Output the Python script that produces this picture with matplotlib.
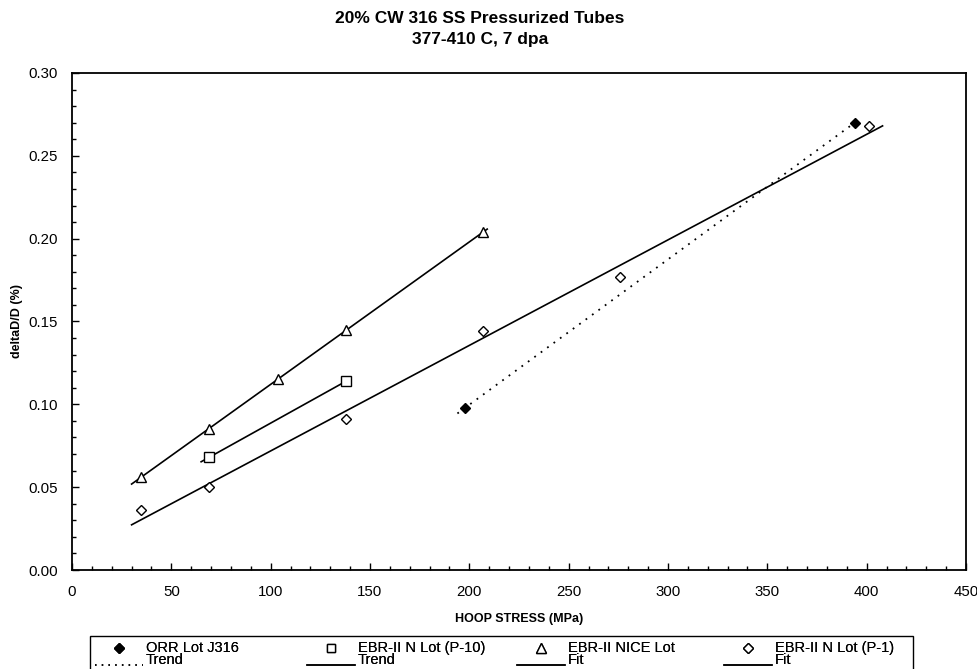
import numpy as np
import matplotlib
matplotlib.use("Agg")
import matplotlib.pyplot as plt
from matplotlib.lines import Line2D
from matplotlib.patches import Rectangle
from matplotlib.legend_handler import HandlerBase
from matplotlib.ticker import MultipleLocator, FormatStrFormatter

plt.rcParams['font.family'] = ['Liberation Sans', 'DejaVu Sans']

# data (stress in MPa, deltaD/D in %)
orr_x = [198, 394]
orr_y = [0.098, 0.270]
p10_x = [69, 138]
p10_y = [0.068, 0.114]
nice_x = [34.5, 69, 103.5, 138, 207]
nice_y = [0.056, 0.085, 0.115, 0.145, 0.204]
p1_x = [34.5, 69, 138, 207, 276, 401]
p1_y = [0.036, 0.050, 0.091, 0.144, 0.177, 0.268]

# x ranges over which the trend / fit lines are drawn
orr_rng = (194, 396)
p10_rng = (65, 138)
nice_rng = (30, 209)
p1_rng = (30, 408)

labels = ["ORR Lot J316\nTrend", "EBR-II N Lot (P-10)\nTrend",
          "EBR-II NICE Lot\nFit", "EBR-II N Lot (P-1)\nFit"]

W, H = 978, 669
fig = plt.figure(figsize=(W/100, H/100), dpi=100)
ax = fig.add_axes([72/W, 1-570/H, (966-72)/W, (570-73)/H])


def fit_line(x, y, rng):
    k, b = np.polyfit(x, y, 1)
    xs = np.array(rng)
    return xs, k*xs + b


DOTS = (0, (1, 3.4))
mk = dict(color='black', linestyle='none', markersize=6.5, markeredgewidth=1.0)

xs, ys = fit_line(orr_x, orr_y, orr_rng)
orr_ln, = ax.plot(xs, ys, color='black', lw=1.3, linestyle=DOTS)
orr_pt, = ax.plot(orr_x, orr_y, marker='D', markerfacecolor='black', **{**mk, 'markersize': 5.5})

xs, ys = fit_line(p10_x, p10_y, p10_rng)
p10_ln, = ax.plot(xs, ys, color='black', lw=1.2)
p10_pt, = ax.plot(p10_x, p10_y, marker='s', markerfacecolor='white', **mk)

xs, ys = fit_line(nice_x, nice_y, nice_rng)
nice_ln, = ax.plot(xs, ys, color='black', lw=1.2)
nice_pt, = ax.plot(nice_x, nice_y, marker='^', markerfacecolor='white', **{**mk, 'markersize': 7.5})

xs, ys = fit_line(p1_x, p1_y, p1_rng)
p1_ln, = ax.plot(xs, ys, color='black', lw=1.2)
p1_pt, = ax.plot(p1_x, p1_y, marker='D', markerfacecolor='white', **{**mk, 'markersize': 5.5})

ax.set_xlim(0, 450)
ax.set_ylim(0, 0.30)
ax.xaxis.set_major_locator(MultipleLocator(50))
ax.xaxis.set_minor_locator(MultipleLocator(10))
ax.yaxis.set_major_locator(MultipleLocator(0.05))
ax.yaxis.set_minor_locator(MultipleLocator(0.01))
ax.yaxis.set_major_formatter(FormatStrFormatter('%.2f'))
ax.tick_params(which='both', direction='in', top=False, right=False,
               labelsize=10.8, width=1.0, color='black')
ax.tick_params(which='major', length=5)
ax.tick_params(which='minor', length=3)
ax.tick_params(axis='x', which='major', pad=11)
ax.tick_params(axis='y', which='major', pad=10)
for s in ax.spines.values():
    s.set_linewidth(1.3)

ax.set_xlabel("HOOP STRESS (MPa)", fontsize=9, fontweight='bold')
ax.xaxis.set_label_coords(0.5, -(619-570)/(570-73), transform=ax.transAxes)
ax.xaxis.label.set_va('center')
ax.set_ylabel("deltaD/D (%)", fontsize=9, fontweight='bold')
ax.yaxis.set_label_coords(-(72-17)/(966-72), 0.5, transform=ax.transAxes)
ax.yaxis.label.set_va('center')

fig.suptitle("20% CW 316 SS Pressurized Tubes\n377-410 C, 7 dpa", x=480/W, y=1-11/H,
             va='top', fontsize=12.5, fontweight='bold', linespacing=1.5)


class MarkerOverLine(HandlerBase):
    def create_artists(self, legend, orig_handle, xdescent, ydescent,
                       width, height, fontsize, trans):
        pt, ln = orig_handle
        x0, x1 = -xdescent, -xdescent + width
        ytop = -ydescent + height * 0.85
        ybot = -ydescent + height * 0.0
        line = Line2D([x0, x1], [ybot, ybot], color='black', lw=1.1)
        if ln.get_linestyle() != '-':
            line.set_linestyle(DOTS)
        mark = Line2D([(x0 + x1) / 2], [ytop], linestyle='none',
                      marker=pt.get_marker(), markersize=pt.get_markersize() * 0.9,
                      markerfacecolor=pt.get_markerfacecolor(),
                      markeredgecolor='black', markeredgewidth=1.0)
        for a in (line, mark):
            a.set_transform(trans)
        return [line, mark]


# legend: one small legend per column so the columns sit at even spacing,
# plus the surrounding box
handles = [(orr_pt, orr_ln), (p10_pt, p10_ln), (nice_pt, nice_ln), (p1_pt, p1_ln)]
col_x = [95, 307, 517, 724]
for h, lab, cx in zip(handles, labels, col_x):
    leg = fig.legend([h], [lab], handler_map={tuple: MarkerOverLine()},
                     loc='upper left', bbox_to_anchor=(cx/W, 1-641/H),
                     frameon=False, borderpad=0, borderaxespad=0,
                     handlelength=3.3, handleheight=1.7, handletextpad=0.2,
                     prop={'size': 10.5})
    for t in leg.get_texts():
        t.set_linespacing(0.82)
    fig.add_artist(leg)

fig.add_artist(Rectangle((90/W, -0.02), (913-90)/W, 0.02 + (669-636)/H,
                         transform=fig.transFigure, fill=False,
                         edgecolor='black', lw=1.0))

fig.savefig("out.png", dpi=100)
